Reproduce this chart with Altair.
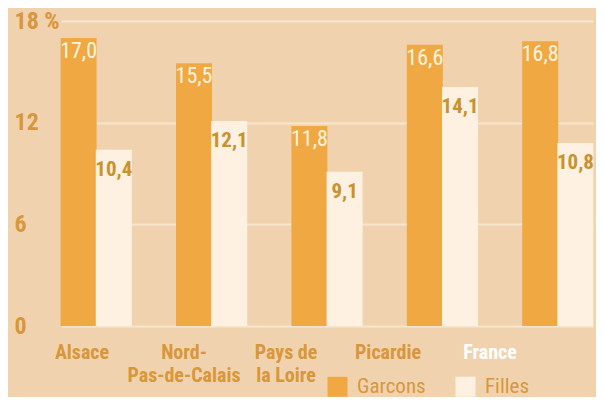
import altair as alt
import pandas as pd

regions = ["Alsace", "Nord-Pas-de-Calais", "Pays de la Loire", "Picardie", "France"]
region_labels = ["Alsace", "Nord-\nPas-de-Calais", "Pays de\nla Loire", "Picardie", "France"]
series = ["Garcons", "Filles"]
garcons = [17.0, 15.5, 11.8, 16.6, 16.8]
filles = [10.4, 12.1, 9.1, 14.1, 10.8]
y_ticks = [0, 6, 12, 18]

BG = "#F0D3AE"
ORANGE = "#F0A843"
CREAM = "#FEF1E2"
GOLD = "#D9963B"
DARKGOLD = "#C9912F"
GRID = "#F7E6CF"
FONT = "Roboto Condensed, Roboto, sans-serif"

rows = []
for r, g, f in zip(regions, garcons, filles):
    rows.append({"region": r, "sexe": "Garcons", "value": g, "txt": f"{g:.1f}".replace(".", ",")})
    rows.append({"region": r, "sexe": "Filles", "value": f, "txt": f"{f:.1f}".replace(".", ",")})
df = pd.DataFrame(rows)
labels_df = pd.DataFrame({"region": regions, "label": region_labels})

xscale = alt.Scale(range=[15, 547], paddingInner=0.39, paddingOuter=0)
x = alt.X("region:N", sort=regions, scale=xscale, axis=None)
xoff = alt.XOffset("sexe:N", sort=series, scale=alt.Scale(domain=series, paddingInner=0, paddingOuter=0))
y = alt.Y("value:Q", scale=alt.Scale(domain=[0, 18], nice=False, zero=True),
          axis=alt.Axis(values=y_ticks, grid=True, gridColor=GRID, gridWidth=2,
                        domain=False, ticks=False, title=None,
                        labelAlign="left", labelPadding=32, labelBaseline="middle",
                        labelFont=FONT, labelFontSize=24, labelFontWeight="bold",
                        labelColor=GOLD,
                        labelExpr="datum.value == 18 ? '18 %' : datum.label"))

base = alt.Chart(df)

bars = base.mark_bar(size=36).encode(
    x=x, xOffset=xoff, y=y,
    color=alt.Color("sexe:N", sort=series,
                    scale=alt.Scale(domain=series, range=[ORANGE, CREAM]),
                    legend=alt.Legend(title=None, orient="none", legendX=281, legendY=355,
                                      direction="horizontal", symbolType="square",
                                      symbolSize=400, symbolStrokeWidth=0,
                                      labelFont=FONT, labelFontSize=21, labelColor=GOLD,
                                      labelOffset=9, columnPadding=29, padding=0)),
)

lab_g = base.transform_filter(alt.datum.sexe == "Garcons").mark_text(
    baseline="top", dy=3, font=FONT, fontSize=22, color="#FFF4DF"
).encode(x=x, xOffset=xoff, y="value:Q", text="txt:N")

lab_f = base.transform_filter(alt.datum.sexe == "Filles").mark_text(
    baseline="top", dy=9, font=FONT, fontSize=21, fontWeight="bold", color=DARKGOLD
).encode(x=x, xOffset=xoff, y="value:Q", text="txt:N")

cats = alt.Chart(labels_df).mark_text(
    baseline="top", align="center", lineBreak="\n", lineHeight=23,
    font=FONT, fontSize=20, fontWeight="bold"
).encode(
    x=alt.X("region:N", sort=regions,
            scale=alt.Scale(range=[-15, 495], paddingInner=0, paddingOuter=0), axis=None),
    y=alt.value(322),
    text="label:N",
    color=alt.condition(alt.datum.region == "France", alt.value("#FFFFFF"), alt.value(GOLD)),
)

bars_layer = alt.layer(bars, lab_g, lab_f)

chart = alt.layer(bars_layer, cats).resolve_scale(x="independent").properties(
    width=550, height=305,
    autosize=alt.AutoSizeParams(type="none"),
    padding={"left": 38, "top": 13, "right": 0, "bottom": 71},
    background=BG,
).configure_view(stroke=None)

chart.save("out.html", embed_options={"renderer": "svg", "actions": False})
